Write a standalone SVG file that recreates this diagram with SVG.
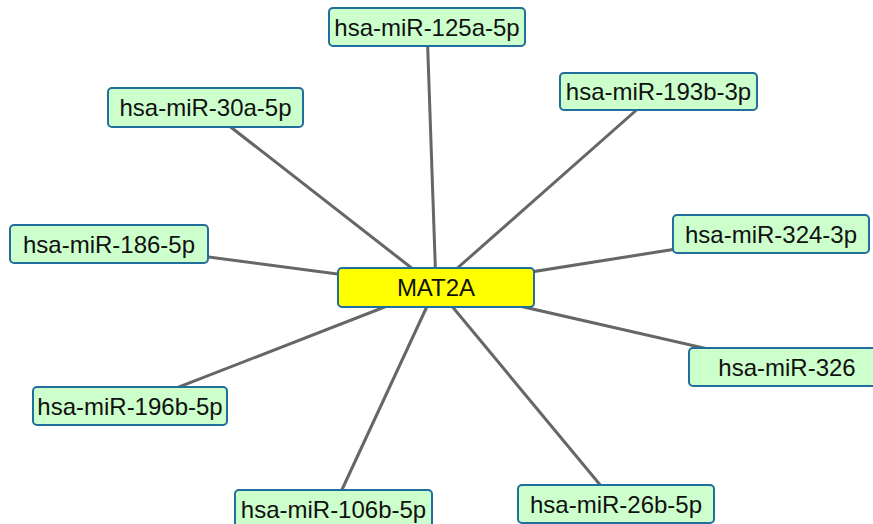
<svg xmlns="http://www.w3.org/2000/svg" width="873" height="524" viewBox="0 0 873 524">
  <style>
    .edge { stroke: #666666; stroke-width: 3; fill: none; }
    .mirna { fill: #ccffcc; stroke: #1f6e9c; stroke-width: 2; }
    .gene { fill: #ffff00; stroke: #1f6e9c; stroke-width: 2; }
    .label { font-family: "Liberation Sans", Arial, sans-serif; font-size: 24px; fill: #111111; text-anchor: middle; }
  </style>
  <rect width="873" height="524" fill="#ffffff"/>
  <!-- interaction edges, drawn centre to centre behind the nodes -->
  <g id="edges">
    <line class="edge" x1="436" y1="287" x2="427" y2="27"/>
    <line class="edge" x1="436" y1="287" x2="658" y2="91"/>
    <line class="edge" x1="436" y1="287" x2="205" y2="107"/>
    <line class="edge" x1="436" y1="287" x2="110" y2="244"/>
    <line class="edge" x1="436" y1="287" x2="771" y2="234"/>
    <line class="edge" x1="436" y1="287" x2="787" y2="367"/>
    <line class="edge" x1="436" y1="287" x2="130" y2="406"/>
    <line class="edge" x1="436" y1="287" x2="333" y2="509"/>
    <line class="edge" x1="436" y1="287" x2="616" y2="504"/>
  </g>
  <g id="MAT2A">
    <rect class="gene" x="338" y="268" width="196" height="39" rx="4"/>
    <text class="label" x="436" y="296">MAT2A</text>
  </g>
  <g id="hsa-miR-125a-5p">
    <rect class="mirna" x="329" y="8" width="196" height="38" rx="4"/>
    <text class="label" x="427" y="36">hsa-miR-125a-5p</text>
  </g>
  <g id="hsa-miR-193b-3p">
    <rect class="mirna" x="560" y="73" width="197" height="37" rx="4"/>
    <text class="label" x="658.5" y="100">hsa-miR-193b-3p</text>
  </g>
  <g id="hsa-miR-30a-5p">
    <rect class="mirna" x="108" y="88" width="195" height="39" rx="4"/>
    <text class="label" x="205.5" y="116">hsa-miR-30a-5p</text>
  </g>
  <g id="hsa-miR-186-5p">
    <rect class="mirna" x="10" y="225" width="198" height="38" rx="4"/>
    <text class="label" x="109" y="253">hsa-miR-186-5p</text>
  </g>
  <g id="hsa-miR-324-3p">
    <rect class="mirna" x="673" y="215" width="196" height="38" rx="4"/>
    <text class="label" x="771" y="243">hsa-miR-324-3p</text>
  </g>
  <g id="hsa-miR-326">
    <rect class="mirna" x="689" y="348" width="196" height="38" rx="4"/>
    <text class="label" x="787" y="376">hsa-miR-326</text>
  </g>
  <g id="hsa-miR-196b-5p">
    <rect class="mirna" x="33" y="387" width="194" height="38" rx="4"/>
    <text class="label" x="130" y="415">hsa-miR-196b-5p</text>
  </g>
  <g id="hsa-miR-106b-5p">
    <rect class="mirna" x="235" y="490" width="197" height="38" rx="4"/>
    <text class="label" x="333.5" y="518">hsa-miR-106b-5p</text>
  </g>
  <g id="hsa-miR-26b-5p">
    <rect class="mirna" x="518" y="485" width="196" height="38" rx="4"/>
    <text class="label" x="616" y="513">hsa-miR-26b-5p</text>
  </g>
</svg>
